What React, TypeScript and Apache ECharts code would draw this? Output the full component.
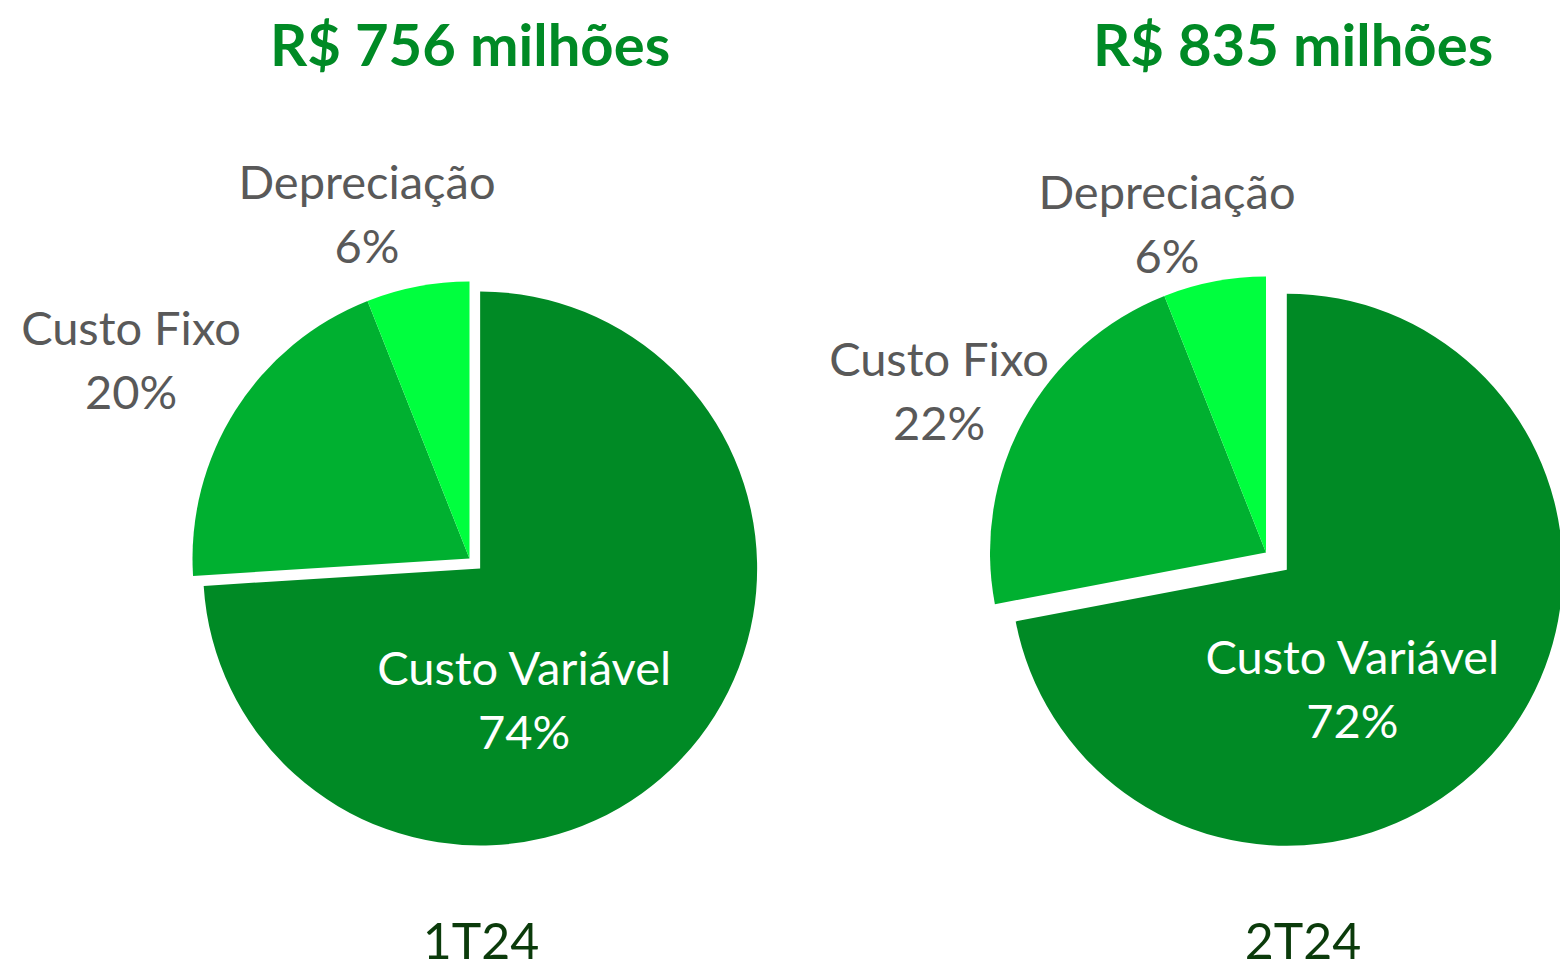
import React, { useEffect, useRef } from "react";
import * as echarts from "echarts";

const categories = ["Custo Variável", "Custo Fixo", "Depreciação"];
const values1T24 = [74, 20, 6];
const values2T24 = [72, 22, 6];
const periods = ["1T24", "2T24"];
const totals = ["R$ 756 milhões", "R$ 835 milhões"];

const sliceColors = ["#008A25", "#00B030", "#00FF3E"];
const labelColors = ["#FFFFFF", "#595959", "#595959"];

// layout (not data): pie geometry and label block centers
const pieCenters = [
  [469.5, 558.5],
  [1266, 552.5],
];
const pieRadii = [277, 276];
const pieOffsets = [14.6, 27];
const labelPos = [
  [
    [522, 697],
    [131, 359],
    [367, 213],
  ],
  [
    [1350, 686],
    [939, 390],
    [1167, 223],
  ],
];

const FONT = "Lato, 'Open Sans', sans-serif";

export default function App() {
  const ref = useRef<HTMLDivElement>(null);
  useEffect(() => {
    if (!ref.current) return;
    const chart = echarts.init(ref.current, null, { renderer: "svg" });
    const mkSeries = (vals: number[], idx: number) => {
      const center = pieCenters[idx];
      const radius = pieRadii[idx];
      const off = pieOffsets[idx];
      const total = vals.reduce((a, b) => a + b, 0);
      // selected (first) slice: label placed by offset from its default inside spot
      const mid = ((vals[0] / total) * Math.PI * 2) / 2;
      const dx = Math.sin(mid);
      const dy = -Math.cos(mid);
      const defX = center[0] + dx * off + (dx * radius) / 2;
      const defY = center[1] + dy * off + (dy * radius) / 2;
      const selOffset = [labelPos[idx][0][0] - defX, labelPos[idx][0][1] - defY];
      return {
        type: "pie",
        center,
        radius,
        startAngle: 90,
        clockwise: true,
        selectedMode: "single",
        selectedOffset: off,
        emphasis: { disabled: true },
        silent: true,
        label: {
          show: true,
          position: "inside",
          overflow: "none",
          formatter: (p: any) => `${p.name}\n${p.value}%`,
          fontFamily: FONT,
          fontSize: 47,
          lineHeight: 64,
          align: "center",
        },
        labelLine: { show: false },
        labelLayout: (p: any) =>
          p.dataIndex === 0
            ? {}
            : {
                x: labelPos[idx][p.dataIndex][0],
                y: labelPos[idx][p.dataIndex][1],
                align: "center",
                verticalAlign: "middle",
              },
        data: categories.map((c, i) => ({
          name: c,
          value: vals[i],
          selected: i === 0,
          itemStyle: { color: sliceColors[i] },
          label: i === 0 ? { color: labelColors[i], offset: selOffset } : { color: labelColors[i] },
          select: i === 0 ? { label: { color: labelColors[i], offset: selOffset } } : undefined,
        })),
      };
    };
    chart.setOption({
      animation: false,
      backgroundColor: "#FFFFFF",
      series: [mkSeries(values1T24, 0), mkSeries(values2T24, 1)],
      graphic: [
        ...totals.map((t, i) => ({
          type: "text",
          x: [470, 1293][i],
          y: 43,
          style: {
            text: t,
            fill: "#008A25",
            font: `bold 58px ${FONT}`,
            align: "center",
            verticalAlign: "middle",
          },
        })),
        ...periods.map((t, i) => ({
          type: "text",
          x: [481, 1303][i],
          y: 940,
          style: {
            text: t,
            fill: "#0B3B0B",
            font: `50px ${FONT}`,
            align: "center",
            verticalAlign: "middle",
          },
        })),
      ],
    });
    return () => chart.dispose();
  }, []);
  return (
    <div
      ref={ref}
      style={{ position: "absolute", left: 0, top: 0, width: 1560, height: 970 }}
    />
  );
}
